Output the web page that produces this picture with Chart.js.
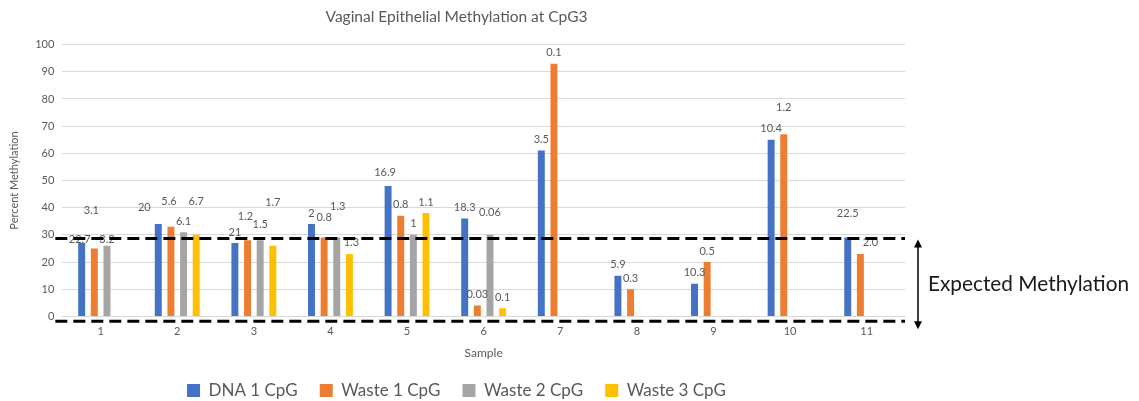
<!DOCTYPE html>
<html>
<head>
<meta charset="utf-8">
<script src="https://cdn.jsdelivr.net/npm/chart.js@4/dist/chart.umd.min.js"></script>
<style>
  html, body { margin: 0; padding: 0; background: #fff; }
  #wrap { width: 1139px; height: 401px; }
</style>
</head>
<body>
<div id="wrap"><canvas id="chart" width="1139" height="401"></canvas></div>
<script>
var samples = ["1", "2", "3", "4", "5", "6", "7", "8", "9", "10", "11"];

// percent methylation per sample
var dna1 = [27, 34, 27, 34, 48, 36, 61, 15, 12, 65, 29];
var waste1 = [25, 33, 28, 29, 37, 4, 93, 10, 20, 67, 23];
var waste2 = [26, 31, 28, 29, 30, 30, null, null, null, null, null];
var waste3 = [null, 30, 26, 23, 38, 3, null, null, null, null, null];

// numbers printed above each bar
var dna1Notes = ["22.7", "20", "21", "2", "16.9", "18.3", "3.5", "5.9", "10.3", "10.4", "22.5"];
var waste1Notes = ["3.1", "5.6", "1.2", "0.8", "0.8", "0.03", "0.1", "0.3", "0.5", "1.2", "2.0"];
var waste2Notes = ["3.2", "6.1", "1.5", "1.3", "1", "0.06", null, null, null, null, null];
var waste3Notes = [null, "6.7", "1.7", "1.3", "1.1", "0.1", null, null, null, null, null];

// expected methylation band
var bandTop = 28.7;
var bandBottom = -1.8;

var textGray = "#595959";
var font = "Lato, 'Open Sans', sans-serif";

// hand-placed label shifts: "dataset:index" -> [dx, dy]
var noteShift = {
  "0:0": [-2, 7], "0:1": [-14, -6], "0:4": [-3, -2], "0:10": [0, -13],
  "1:0": [-3, -27], "1:1": [-2, -14], "1:2": [-2, -13], "1:3": [0, -9], "1:9": [0, -16], "1:10": [10, 0],
  "2:0": [0, 5], "2:2": [0, -5], "2:3": [1, -20], "2:5": [0, -11],
  "3:1": [0, -22], "3:2": [0, -32], "3:3": [2, 0]
};

var notePlugin = {
  id: "notes",
  afterDatasetsDraw: function (chart) {
    var ctx = chart.ctx;
    var notes = [dna1Notes, waste1Notes, waste2Notes, waste3Notes];
    ctx.save();
    ctx.font = "11px " + font;
    ctx.fillStyle = textGray;
    ctx.textAlign = "center";
    ctx.textBaseline = "middle";
    chart.data.datasets.forEach(function (ds, i) {
      var meta = chart.getDatasetMeta(i);
      meta.data.forEach(function (bar, j) {
        var txt = notes[i][j];
        if (ds.data[j] == null || !txt) return;
        var s = noteShift[i + ":" + j] || [0, 0];
        ctx.fillText(txt, bar.x + s[0], bar.y - 11 + s[1]);
      });
    });
    ctx.restore();
  }
};

var bandPlugin = {
  id: "band",
  afterDraw: function (chart) {
    var ctx = chart.ctx;
    var y = chart.scales.y;
    var area = chart.chartArea;
    var yTop = y.getPixelForValue(bandTop);
    var yBot = y.getPixelForValue(bandBottom);
    ctx.save();
    ctx.strokeStyle = "#000";
    ctx.lineWidth = 3;
    ctx.setLineDash([12, 6]);
    [yTop, yBot].forEach(function (py) {
      ctx.beginPath();
      ctx.moveTo(area.left - 7, py);
      ctx.lineTo(area.right, py);
      ctx.stroke();
    });

    // double-headed arrow
    var ax = area.right + 13;
    var a0 = yTop + 1, a1 = yBot + 8;
    ctx.setLineDash([]);
    ctx.lineWidth = 1.5;
    ctx.beginPath();
    ctx.moveTo(ax, a0 + 6);
    ctx.lineTo(ax, a1 - 6);
    ctx.stroke();
    ctx.fillStyle = "#000";
    ctx.beginPath();
    ctx.moveTo(ax, a0); ctx.lineTo(ax - 4, a0 + 8); ctx.lineTo(ax + 4, a0 + 8); ctx.closePath();
    ctx.fill();
    ctx.beginPath();
    ctx.moveTo(ax, a1); ctx.lineTo(ax - 4, a1 - 8); ctx.lineTo(ax + 4, a1 - 8); ctx.closePath();
    ctx.fill();

    ctx.font = "20.8px " + font;
    ctx.fillStyle = "#1a1a1a";
    ctx.textAlign = "left";
    ctx.textBaseline = "middle";
    ctx.fillText("Expected Methylation", ax + 10, (a0 + a1) / 2);
    ctx.restore();
  }
};

var ctx = document.getElementById("chart");
var myChart = new Chart(ctx, {
  type: "bar",
  data: {
    labels: samples,
    datasets: [
      { label: "DNA 1 CpG", data: dna1, backgroundColor: "#4472C4" },
      { label: "Waste 1 CpG", data: waste1, backgroundColor: "#ED7D31" },
      { label: "Waste 2 CpG", data: waste2, backgroundColor: "#A5A5A5" },
      { label: "Waste 3 CpG", data: waste3, backgroundColor: "#FFC000" }
    ]
  },
  options: {
    responsive: false,
    animation: false,
    categoryPercentage: 0.66,
    barPercentage: 0.55,
    layout: { padding: { top: 8, left: 8, right: 234, bottom: -8 } },
    scales: {
      x: {
        grid: { display: false, drawTicks: false },
        border: { display: false },
        ticks: { color: textGray, font: { size: 11, family: font }, padding: 8 },
        title: { display: true, text: "Sample", color: textGray, font: { size: 12, family: font }, padding: { top: 0, bottom: 0 } }
      },
      y: {
        min: 0,
        max: 100,
        ticks: { stepSize: 10, color: textGray, font: { size: 11, family: font }, padding: 8 },
        grid: { color: "#D9D9D9", drawTicks: false },
        border: { display: false },
        title: { display: true, text: "Percent Methylation", color: textGray, font: { size: 11, family: font }, padding: { top: 0, bottom: 6 } }
      }
    },
    plugins: {
      title: {
        display: true,
        text: "Vaginal Epithelial Methylation at CpG3",
        color: textGray,
        font: { size: 15.5, weight: "normal", family: font },
        padding: { top: 0, bottom: 18 }
      },
      legend: {
        position: "bottom",
        labels: {
          color: textGray,
          font: { size: 17, family: font },
          boxWidth: 13,
          boxHeight: 13,
          padding: 22
        }
      },
      tooltip: { enabled: false }
    }
  },
  plugins: [notePlugin, bandPlugin]
});
</script>
</body>
</html>
